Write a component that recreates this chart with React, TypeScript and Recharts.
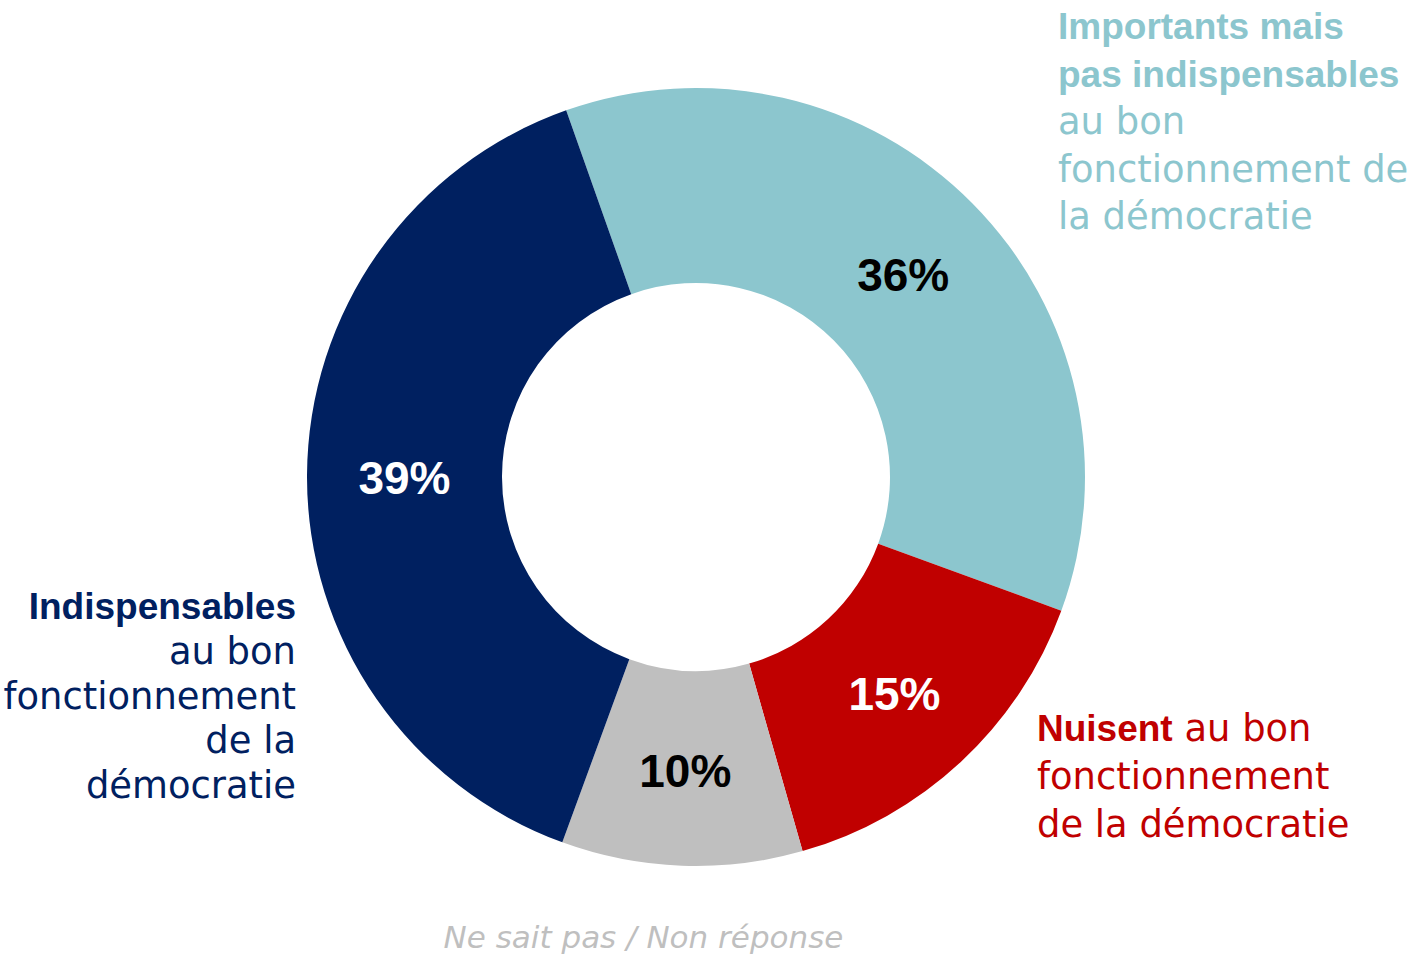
import { PieChart, Pie, Cell } from 'recharts';

const categories = [
  'Importants mais pas indispensables',
  'Nuisent',
  'Ne sait pas / Non réponse',
  'Indispensables',
];
const shares = [36, 15, 10, 39];
const sliceColors = ['#8CC6CE', '#C00000', '#BFBFBF', '#002060'];
const valueColors = ['#000000', '#FFFFFF', '#000000', '#FFFFFF'];

const data = categories.map((name, i) => ({ name, value: shares[i] }));

const RAD = Math.PI / 180;
const REG = '"DejaVu Sans", sans-serif';
const BOLD = '"Liberation Sans", Arial, sans-serif';

function ValueLabel(props: any) {
  const { cx, cy, midAngle, innerRadius, outerRadius, index, value } = props;
  const r = (innerRadius + outerRadius) / 2;
  const x = cx + r * Math.cos(-midAngle * RAD);
  const y = cy + r * Math.sin(-midAngle * RAD) + 3;
  return (
    <text
      x={x}
      y={y}
      fill={valueColors[index]}
      textAnchor="middle"
      dominantBaseline="central"
      fontFamily={BOLD}
      fontWeight={700}
      fontSize={46}
    >
      {`${value}%`}
    </text>
  );
}

const b = (color: string) => ({ fontFamily: BOLD, fontWeight: 700, fontSize: 37, color });

export default function App() {
  return (
    <div style={{ position: 'absolute', left: 0, top: 0, width: 1411, height: 961, background: '#fff' }}>
      <PieChart width={1411} height={961} margin={{ top: 0, right: 0, bottom: 0, left: 0 }}>
        <Pie
          data={data}
          dataKey="value"
          cx={696}
          cy={477}
          innerRadius={194}
          outerRadius={389}
          startAngle={109.5}
          endAngle={-250.5}
          stroke="none"
          label={ValueLabel}
          labelLine={false}
          isAnimationActive={false}
        >
          {data.map((d, i) => (
            <Cell key={d.name} fill={sliceColors[i]} />
          ))}
        </Pie>
      </PieChart>

      <div
        style={{
          position: 'absolute', left: 1058, top: 3, fontFamily: REG, fontSize: 36.9,
          lineHeight: '47.5px', color: '#8CC6CE', whiteSpace: 'nowrap',
        }}
      >
        <div style={b('#8CC6CE')}>Importants mais</div>
        <div style={b('#8CC6CE')}>pas indispensables</div>
        <div>au bon</div>
        <div>fonctionnement de</div>
        <div>la démocratie</div>
      </div>

      <div
        style={{
          position: 'absolute', right: 1411 - 296, top: 585, fontFamily: REG, fontSize: 36.9,
          lineHeight: '44.75px', color: '#002060', textAlign: 'right', whiteSpace: 'nowrap',
        }}
      >
        <div style={b('#002060')}>Indispensables</div>
        <div>au bon</div>
        <div>fonctionnement</div>
        <div>de la</div>
        <div>démocratie</div>
      </div>

      <div
        style={{
          position: 'absolute', left: 1037, top: 705, fontFamily: REG, fontSize: 36.9,
          lineHeight: '48px', color: '#C00000', whiteSpace: 'nowrap',
        }}
      >
        <div><span style={b('#C00000')}>Nuisent</span> au bon</div>
        <div>fonctionnement</div>
        <div>de la démocratie</div>
      </div>

      <div
        style={{
          position: 'absolute', left: 443, width: 401, top: 918, fontFamily: REG, fontSize: 31,
          fontStyle: 'italic', lineHeight: '38px', color: '#BFBFBF', textAlign: 'center', whiteSpace: 'nowrap',
        }}
      >
        Ne sait pas / Non réponse
      </div>
    </div>
  );
}
